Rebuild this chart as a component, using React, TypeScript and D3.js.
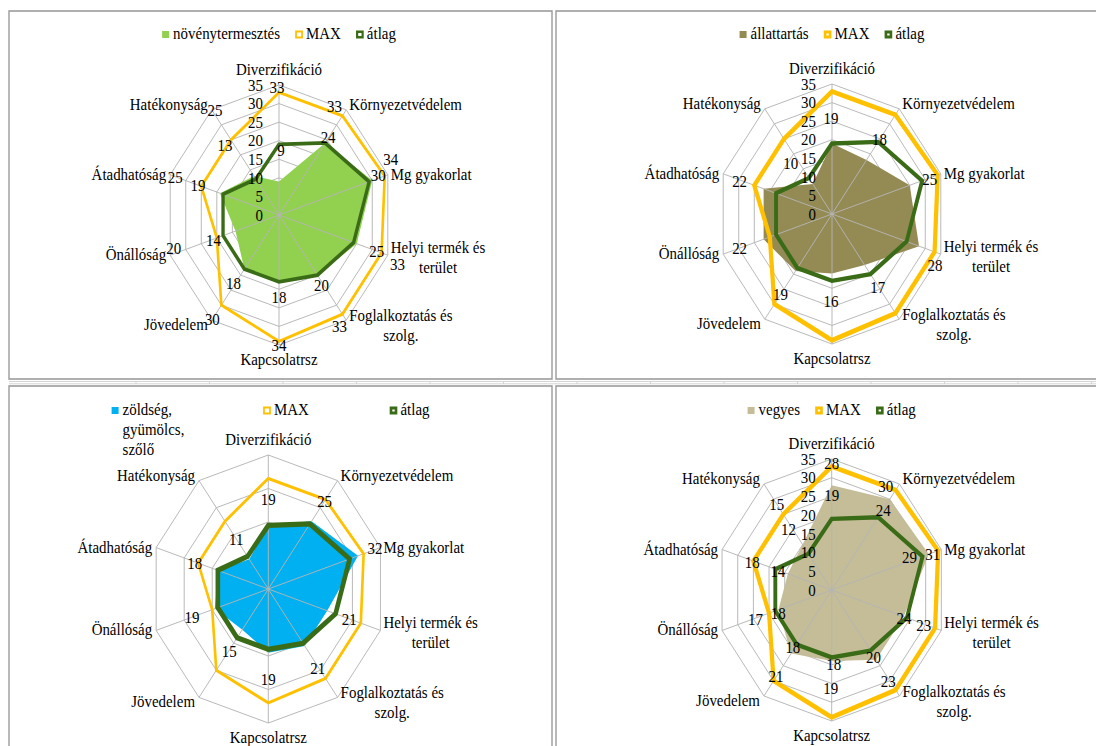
import React from "react";
import * as d3 from "d3";

// axes of every radar, clockwise from the top
const categories = [
  "Diverzifikáció",
  "Környezetvédelem",
  "Mg gyakorlat",
  "Helyi termék és\nterület",
  "Foglalkoztatás és\nszolg.",
  "Kapcsolatrsz",
  "Jövedelem",
  "Önállóság",
  "Átadhatóság",
  "Hatékonyság",
];

// series shared by all four charts
const maxValues = [33, 33, 34, 33, 33, 34, 30, 20, 25, 25];
const atlagValues = [19, 24, 29, 24, 20, 18, 18, 18, 18, 12];

// own series of each chart
const novenytermesztes = [9, 24, 30, 25, 20, 18, 18, 14, 19, 13];
const allattartas = [19, 18, 25, 28, 17, 16, 19, 22, 22, 10];
const zoldseg = [19, 25, 32, 21, 21, 19, 15, 19, 18, 11];
const vegyes = [28, 30, 31, 23, 23, 19, 21, 17, 14, 15];

// where the data labels sit relative to their point (px)
const p1MaxOffsets: [number, number][] = [[-2, -5], [-8, -10], [6, -17], [16, 11], [-3, 12], [0, 4], [-9, 14], [-43, 10], [-26, -9], [-16, -30]];
const p1OwnOffsets: [number, number][] = [[2, -31], [3, -6], [6, -5], [20, 8], [4, 10], [0, 15], [-11, 14], [-22, 9], [-22, -8], [-29, -31]];
const p2OwnOffsets: [number, number][] = [[-1, -25], [13, -21], [20, -6], [16, 19], [13, 22], [-1, 28], [-15, 23], [-24, 9], [-24, -7], [-22, -21]];
const p3OwnOffsets: [number, number][] = [[0, -26], [13, -20], [17, -8], [22, 9], [13, 22], [0, 27], [-13, 22], [-23, 9], [-23, -7], [-13, -20]];
const p4OwnOffsets: [number, number][] = [[0, -22], [-4, -13], [4, 0], [20, 9], [12, 22], [-1, 27], [-15, 23], [-23, 10], [-10, -2], [-26, -40]];
const p4AvgOffsets: [number, number][] = [[0, -24], [5, -7], [-13, 1], [-3, 1], [3, 7], [2, 7], [-4, 3], [3, 2], [-23, -7], [-20, -24]];

const SX = 0.88; // the picture is squeezed horizontally
const TK = 1.06; // text is squeezed a bit less than the plot
const FONT = "'Liberation Serif', 'Times New Roman', serif";
const YELLOW = "#FFC000";
const GREEN = "#3A6B16";
const GRID = "#b4b4b4";

type LabelSpec = { series: "own" | "max" | "avg"; offsets: [number, number][] };
type Panel = {
  name: string[];
  values: number[];
  color: string;
  box: [number, number, number, number];
  cx: number;
  cy: number;
  r: number;
  max: number;
  step: number;
  ticks: boolean;
  maxW: number;
  avgW: number;
  legendY: number;
  legendCols?: number[];
  legendSW: [number, number];
  labels: LabelSpec[];
};

const panels: Panel[] = [
  {
    name: ["növénytermesztés"], values: novenytermesztes, color: "#92D050",
    box: [9, 11, 552, 379], cx: 279, cy: 215, r: 130, max: 35, step: 5, ticks: true,
    maxW: 3, avgW: 3.8, legendY: 39, legendSW: [2, 2.5],
    labels: [{ series: "max", offsets: p1MaxOffsets }, { series: "own", offsets: p1OwnOffsets }],
  },
  {
    name: ["állattartás"], values: allattartas, color: "#948A54",
    box: [556, 11, 1100, 379], cx: 832, cy: 214, r: 130, max: 35, step: 5, ticks: true,
    maxW: 4.8, avgW: 4.4, legendY: 39, legendSW: [3, 3],
    labels: [{ series: "own", offsets: p2OwnOffsets }],
  },
  {
    name: ["zöldség,", "gyümölcs,", "szőlő"], values: zoldseg, color: "#00B0F0",
    box: [9, 386, 552, 760], cx: 268.3, cy: 589, r: 134, max: 40, step: 10, ticks: false,
    maxW: 3, avgW: 5.2, legendY: 415, legendCols: [-156.7, -5.3, 121.2], legendSW: [2, 3],
    labels: [{ series: "own", offsets: p3OwnOffsets }],
  },
  {
    name: ["vegyes"], values: vegyes, color: "#C4BD97",
    box: [556, 386, 1100, 760], cx: 831.7, cy: 590, r: 131, max: 35, step: 5, ticks: true,
    maxW: 4.8, avgW: 4.4, legendY: 415, legendSW: [3, 3],
    labels: [{ series: "own", offsets: p4OwnOffsets }, { series: "avg", offsets: p4AvgOffsets }],
  },
];

let measureCtx: CanvasRenderingContext2D | null = null;
function textWidth(s: string) {
  if (!measureCtx) measureCtx = document.createElement("canvas").getContext("2d");
  if (!measureCtx) return s.length * 7.5 * TK;
  measureCtx.font = `16px ${FONT}`;
  return measureCtx.measureText(s).width * TK;
}

// a text drawn in the squeezed space, widened a little
function T({ x, y, anchor = "start", central = false, children }: {
  x: number; y: number; anchor?: "start" | "middle" | "end"; central?: boolean; children: React.ReactNode;
}) {
  return (
    <text
      transform={`translate(${x},${y}) scale(${TK},1)`}
      textAnchor={anchor}
      dominantBaseline={central ? "central" : undefined}
    >
      {children}
    </text>
  );
}

const N = categories.length;
const angle = (i: number) => (i * 2 * Math.PI) / N;
const catBase = [-10, 0, 5, -2, 1, 20, 10, 5, 5, 0];

function CategoryLabel({ i, X, Y }: { i: number; X: number; Y: number }) {
  const lines = categories[i].split("\n");
  const base = Y + catBase[i];
  if (i === 0 || i === 5) return <T x={X} y={base} anchor="middle">{lines[0]}</T>;
  const right = i < 5;
  if (lines.length === 1) {
    return (
      <T x={right ? X + 3 / SX : X - 4 / SX} y={base} anchor={right ? "start" : "end"}>
        {lines[0]}
      </T>
    );
  }
  const w = Math.max(...lines.map(textWidth));
  const mid = right ? X + 3 / SX + w / 2 : X - 4 / SX - w / 2;
  return (
    <g>
      {lines.map((l, k) => (
        <T key={k} x={mid} y={base + k * 20} anchor="middle">{l}</T>
      ))}
    </g>
  );
}

function Legend({ p }: { p: Panel }) {
  const items = [
    { fill: true, color: p.color, lines: p.name, sw: 0 },
    { fill: false, color: YELLOW, lines: ["MAX"], sw: p.legendSW[0] },
    { fill: false, color: GREEN, lines: ["átlag"], sw: p.legendSW[1] },
  ];
  let xs: number[];
  if (p.legendCols) {
    xs = p.legendCols.map((c) => p.cx + c);
  } else {
    const widths = items.map((it) => 11 + textWidth(it.lines[0]) * SX);
    const total = d3.sum(widths) + 15 * (items.length - 1);
    let x = p.cx - total / 2;
    xs = widths.map((w) => {
      const s = x;
      x += w + 15;
      return s;
    });
  }
  const b = p.legendY;
  return (
    <g>
      {items.map((it, k) => (
        <g key={k}>
          {it.fill ? (
            <rect x={xs[k] / SX} y={b - 8} width={7 / SX} height={7} fill={it.color} />
          ) : (
            <rect
              x={(xs[k] + it.sw / 2) / SX}
              y={b - 8.5 + it.sw / 2}
              width={(8 - it.sw) / SX}
              height={8 - it.sw}
              fill="#fff"
              stroke={it.color}
              strokeWidth={it.sw}
            />
          )}
          {it.lines.map((l, j) => (
            <T key={j} x={(xs[k] + 11) / SX} y={b + j * 20}>{l}</T>
          ))}
        </g>
      ))}
    </g>
  );
}

function RadarPanel({ p }: { p: Panel }) {
  const cxU = p.cx / SX;
  const r = d3.scaleLinear().domain([0, p.max]).range([0, p.r]);
  const tickVals = d3.range(0, p.max + p.step / 2, p.step);
  const radial = d3
    .lineRadial<number>()
    .angle((_, i) => angle(i))
    .radius((d) => r(d))
    .curve(d3.curveLinearClosed);
  const seriesOf: Record<string, number[]> = { own: p.values, max: maxValues, avg: atlagValues };

  return (
    <g>
      <rect
        x={p.box[0] / SX}
        y={p.box[1]}
        width={(p.box[2] - p.box[0]) / SX}
        height={p.box[3] - p.box[1]}
        fill="#fff"
        stroke="#9c9c9c"
        strokeWidth={1.6}
      />
      <g transform={`translate(${cxU},${p.cy})`}>
        {tickVals.slice(1).map((v) => (
          <path key={v} d={radial(categories.map(() => v)) || ""} fill="none" stroke={GRID} strokeWidth={1} />
        ))}
        <path d={radial(p.values) || ""} fill={p.color} stroke="none" />
        {categories.map((_, i) => {
          const [x, y] = d3.pointRadial(angle(i), p.r);
          return <line key={i} x1={0} y1={0} x2={x} y2={y} stroke={GRID} strokeWidth={1} />;
        })}
        <path d={radial(maxValues) || ""} fill="none" stroke={YELLOW} strokeWidth={p.maxW} strokeLinejoin="miter" />
        <path d={radial(atlagValues) || ""} fill="none" stroke={GREEN} strokeWidth={p.avgW} strokeLinejoin="miter" />
      </g>
      {p.ticks &&
        tickVals.map((v) => (
          <T key={v} x={cxU - 16 / SX} y={p.cy - r(v)} anchor="end" central>
            {v}
          </T>
        ))}
      {p.labels.map((spec) =>
        seriesOf[spec.series].map((v, i) => {
          const [x, y] = d3.pointRadial(angle(i), r(v));
          const [dx, dy] = spec.offsets[i];
          return (
            <T key={spec.series + i} x={cxU + x + dx / SX} y={p.cy + y + dy} anchor="middle" central>
              {v}
            </T>
          );
        })
      )}
      {categories.map((_, i) => {
        const [x, y] = d3.pointRadial(angle(i), p.r);
        return <CategoryLabel key={i} i={i} X={cxU + x} Y={p.cy + y} />;
      })}
      <Legend p={p} />
    </g>
  );
}

export default function App() {
  const W = 1096;
  const H = 746;
  const gridTicks = d3.range(136, W, 73.5);
  return (
    <div style={{ position: "absolute", left: 0, top: 0, width: W, height: H, background: "#fff" }}>
      <svg width={W} height={H} style={{ display: "block", fontFamily: FONT, fontSize: 16 }}>
        <rect x={0} y={0} width={W} height={H} fill="#fff" />
        <g transform={`scale(${SX},1)`} fill="#000">
          {/* spreadsheet cells peeking between the two rows */}
          <line x1={9 / SX} x2={W / SX} y1={381.5} y2={381.5} stroke="#d2d2d2" />
          <line x1={9 / SX} x2={W / SX} y1={383.8} y2={383.8} stroke="#d2d2d2" />
          {gridTicks.map((x) => (
            <line key={x} x1={x / SX} x2={x / SX} y1={381.5} y2={384} stroke="#d2d2d2" />
          ))}
          {panels.map((p, k) => (
            <RadarPanel key={k} p={p} />
          ))}
        </g>
      </svg>
    </div>
  );
}
